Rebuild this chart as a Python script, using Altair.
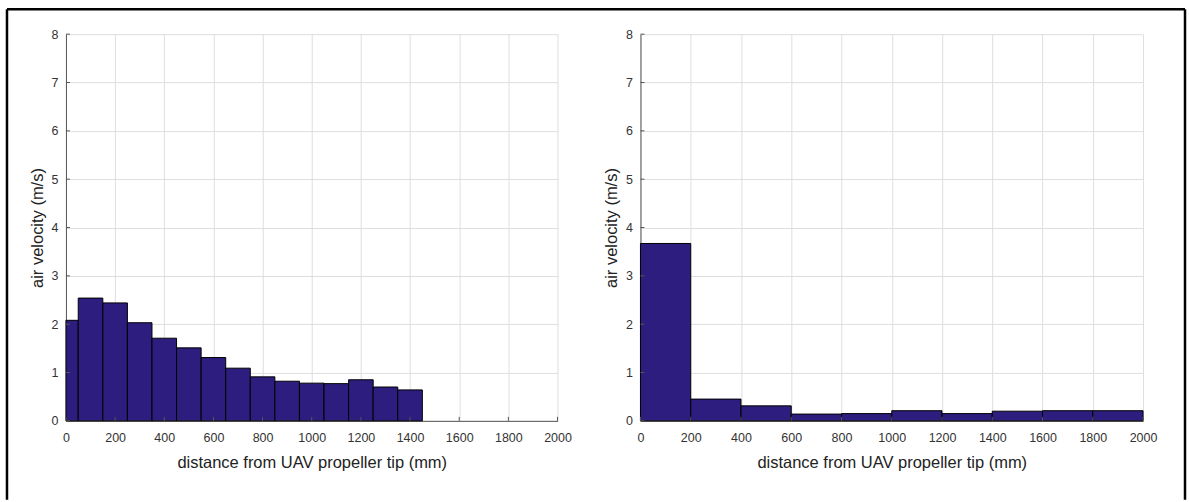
import altair as alt
import pandas as pd

# ---- data ----
left_centers = [0, 100, 200, 300, 400, 500, 600, 700, 800, 900, 1000, 1100, 1200, 1300, 1400]
left_speeds = [2.08, 2.54, 2.44, 2.03, 1.71, 1.51, 1.31, 1.09, 0.91, 0.82, 0.78, 0.77, 0.85, 0.70, 0.64]
left_bin_width = 100

right_centers = [100, 300, 500, 700, 900, 1100, 1300, 1500, 1700, 1900]
right_speeds = [3.67, 0.45, 0.31, 0.14, 0.15, 0.21, 0.15, 0.20, 0.21, 0.21]
right_bin_width = 200

x_ticks = [0, 200, 400, 600, 800, 1000, 1200, 1400, 1600, 1800, 2000]
y_ticks = [0, 1, 2, 3, 4, 5, 6, 7, 8]

x_title = "distance from UAV propeller tip (mm)"
y_title = "air velocity (m/s)"

FONT = "Liberation Sans"
BAR = "#2c1d7e"
AXC = "#555555"
GRID = "#dedede"
PLOT_H = 387

xscale = alt.Scale(domain=[0, 2000], nice=False, zero=False)
yscale = alt.Scale(domain=[0, 8], nice=False)

xaxis = alt.Axis(values=x_ticks, grid=True, gridColor=GRID, gridWidth=1, ticks=False, tickSize=0,
                 domainColor=AXC, domainWidth=1, labelFont=FONT, labelFontSize=12.5, labelColor="#333333",
                 labelPadding=11, labelFlush=False, title=x_title, titleFont=FONT, titleFontSize=16.5,
                 titleFontWeight="normal", titleColor="#222222", titlePadding=10, format="d")
yaxis = alt.Axis(values=y_ticks, grid=True, gridColor=GRID, gridWidth=1, ticks=False, tickSize=0,
                 domainColor=AXC, domainWidth=1, labelFont=FONT, labelFontSize=12.5, labelColor="#333333",
                 labelPadding=8, labelFlush=False, title=y_title, titleFont=FONT, titleFontSize=16.5,
                 titleFontWeight="normal", titleColor="#222222", titlePadding=6, format="d")

one = pd.DataFrame({"a": [0]})


def panel(centers, speeds, bw, width, frame):
    df = pd.DataFrame({
        "start": [max(c - bw / 2, 0) for c in centers],
        "end": [c + bw / 2 for c in centers],
        "v": speeds,
        "base": [0] * len(speeds),
    })
    bars = alt.Chart(df).mark_rect(color=BAR, stroke="black", strokeWidth=1, opacity=1).encode(
        x=alt.X("start:Q", scale=xscale, axis=xaxis),
        x2="end:Q",
        y=alt.Y("v:Q", scale=yscale, axis=yaxis),
        y2="base:Q",
    )
    yt = alt.Chart(pd.DataFrame({"t": y_ticks})).mark_rule(color=AXC, strokeWidth=1).encode(
        y=alt.Y("t:Q", scale=yscale, axis=yaxis),
        x=alt.value(0), x2=alt.value(4),
    )
    xt = alt.Chart(pd.DataFrame({"t": x_ticks})).mark_rule(color=AXC, strokeWidth=1).encode(
        x=alt.X("t:Q", scale=xscale, axis=xaxis),
        y=alt.value(PLOT_H), y2=alt.value(PLOT_H - 4),
    )
    layers = [bars, yt, xt]
    for enc in frame:
        layers.append(alt.Chart(one).mark_rule(color="black", strokeWidth=2.5).encode(**enc))
    return alt.layer(*layers).properties(width=width, height=PLOT_H)


left_frame = [
    dict(x=alt.value(-59), x2=alt.value(1120), y=alt.value(-25)),
    dict(x=alt.value(-59), y=alt.value(-25), y2=alt.value(466)),
]
right_frame = [
    dict(x=alt.value(545), y=alt.value(-25), y2=alt.value(466)),
]

left = panel(left_centers, left_speeds, left_bin_width, 492, left_frame)
right = panel(right_centers, right_speeds, right_bin_width, 503, right_frame)

chart = alt.hconcat(left, right, spacing=83, bounds="flush").properties(
    padding={"left": 5, "top": 7, "right": 2, "bottom": 0},
    background="white",
).configure_view(stroke=None)

chart.save("out.html", embed_options={"renderer": "svg", "actions": False})
